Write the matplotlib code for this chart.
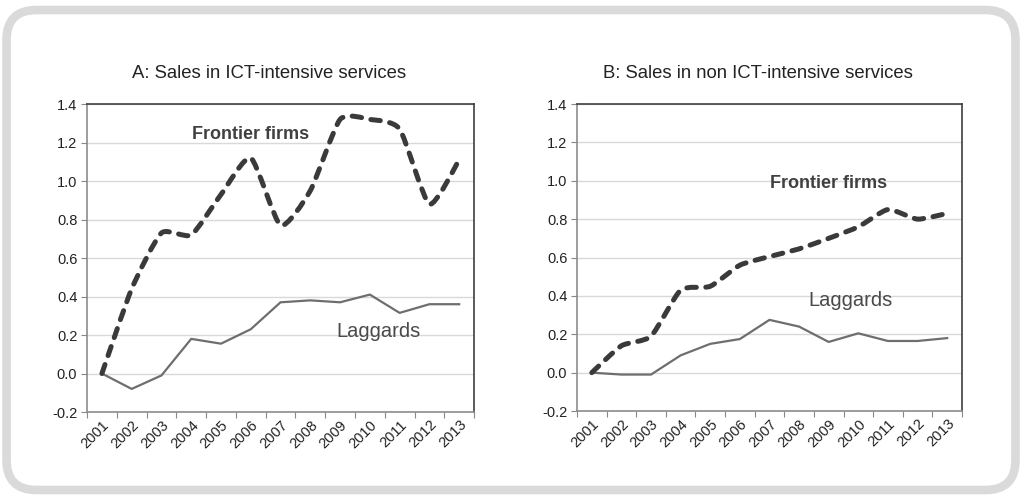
import matplotlib
matplotlib.use("Agg")
import matplotlib.pyplot as plt
import numpy as np
from matplotlib.path import Path
from matplotlib.patches import PathPatch, FancyBboxPatch

plt.rcParams['font.family'] = ['Liberation Sans', 'DejaVu Sans']
plt.rcParams['axes.unicode_minus'] = False

years = [str(y) for y in range(2001, 2014)]

# panel A: ICT-intensive services
frontier_a = [0.00, 0.44, 0.73, 0.72, 0.93, 1.12, 0.77, 0.95, 1.32, 1.32, 1.27, 0.88, 1.11]
laggards_a = [0.00, -0.08, -0.01, 0.18, 0.155, 0.23, 0.37, 0.38, 0.37, 0.41, 0.315, 0.36, 0.36]

# panel B: non ICT-intensive services
frontier_b = [0.00, 0.14, 0.19, 0.43, 0.45, 0.56, 0.605, 0.645, 0.70, 0.76, 0.85, 0.80, 0.83]
laggards_b = [0.00, -0.01, -0.01, 0.09, 0.15, 0.175, 0.275, 0.24, 0.16, 0.205, 0.165, 0.165, 0.18]

titles = ["A: Sales in ICT-intensive services", "B: Sales in non ICT-intensive services"]
yticks = [-0.2, 0.0, 0.2, 0.4, 0.6, 0.8, 1.0, 1.2, 1.4]


# smooth curve through points (cardinal spline turned into cubic beziers)
def smooth_path(xs, ys, k=0.1):
    pts = np.column_stack([xs, ys])
    verts = [pts[0]]
    codes = [Path.MOVETO]
    n = len(pts)
    for i in range(n - 1):
        p0 = pts[max(i - 1, 0)]
        p1 = pts[i]
        p2 = pts[i + 1]
        p3 = pts[min(i + 2, n - 1)]
        c1 = p1 + (p2 - p0) * k
        c2 = p2 - (p3 - p1) * k
        verts += [c1, c2, p2]
        codes += [Path.CURVE4] * 3
    return Path(verts, codes)


def draw_panel(ax, frontier, laggards, fx, fy, lx, ly):
    x = np.arange(len(years))
    ax.set_xlim(-0.5, len(years) - 0.5)
    ax.set_ylim(-0.2, 1.4)
    ax.set_yticks(yticks)
    ax.set_yticklabels(["%.1f" % v for v in yticks])
    ax.yaxis.grid(True, color="#d9d9d9", lw=1)
    ax.set_axisbelow(True)

    ax.set_xticks(np.arange(-0.5, len(years)), labels=[])
    ax.set_xticks(x, minor=True)
    ax.set_xticklabels(years, minor=True, rotation=45, ha="right", va="top",
                       rotation_mode="anchor", fontsize=10.5, color="#222222")
    ax.tick_params(axis="x", which="minor", length=0, pad=4)
    ax.tick_params(axis="x", which="major", length=4, color="#888888", direction="out")
    ax.tick_params(axis="y", length=4, color="#888888", labelsize=10.5,
                   labelcolor="#222222", pad=3)

    for s in ["left", "bottom"]:
        ax.spines[s].set_color("#8c8c8c")
        ax.spines[s].set_linewidth(1.2)
    for s in ["top", "right"]:
        ax.spines[s].set_color("#404040")
        ax.spines[s].set_linewidth(1.2)

    ax.plot(x, laggards, color="#6e6e6e", lw=1.6, zorder=3)
    patch = PathPatch(smooth_path(x, frontier), fill=False, edgecolor="#3a3a3a",
                      lw=3.6, linestyle=(0, (1.9, 1.9)), capstyle="round", zorder=4)
    ax.add_patch(patch)

    ax.text(fx, fy, "Frontier firms", fontsize=13, fontweight="bold",
            color="#404040", ha="center", va="center")
    ax.text(lx, ly, "Laggards", fontsize=14.5, color="#4a4a4a",
            ha="center", va="center")


fig = plt.figure(figsize=(10.25, 5.01), dpi=100)

# rounded frame around both charts
frame = FancyBboxPatch((0.065, 0.11), 10.09, 4.80,
                       boxstyle="round,pad=0,rounding_size=0.3",
                       transform=fig.dpi_scale_trans, facecolor="none",
                       edgecolor="#dadada", lw=6.2, zorder=-1)
fig.patches.append(frame)

ax1 = fig.add_axes([0.0849, 0.1776, 0.3776, 0.6148])
ax2 = fig.add_axes([0.5629, 0.1796, 0.3756, 0.6128])

draw_panel(ax1, frontier_a, laggards_a, 5.0, 1.24, 9.3, 0.22)
draw_panel(ax2, frontier_b, laggards_b, 8.0, 0.985, 8.75, 0.377)

fig.text(269 / 1025, 1 - 73 / 501, titles[0], fontsize=13.3, color="#222222",
         ha="center", va="center")
fig.text(758 / 1025, 1 - 73 / 501, titles[1], fontsize=13.3, color="#222222",
         ha="center", va="center")

fig.savefig("out.png", dpi=100)
